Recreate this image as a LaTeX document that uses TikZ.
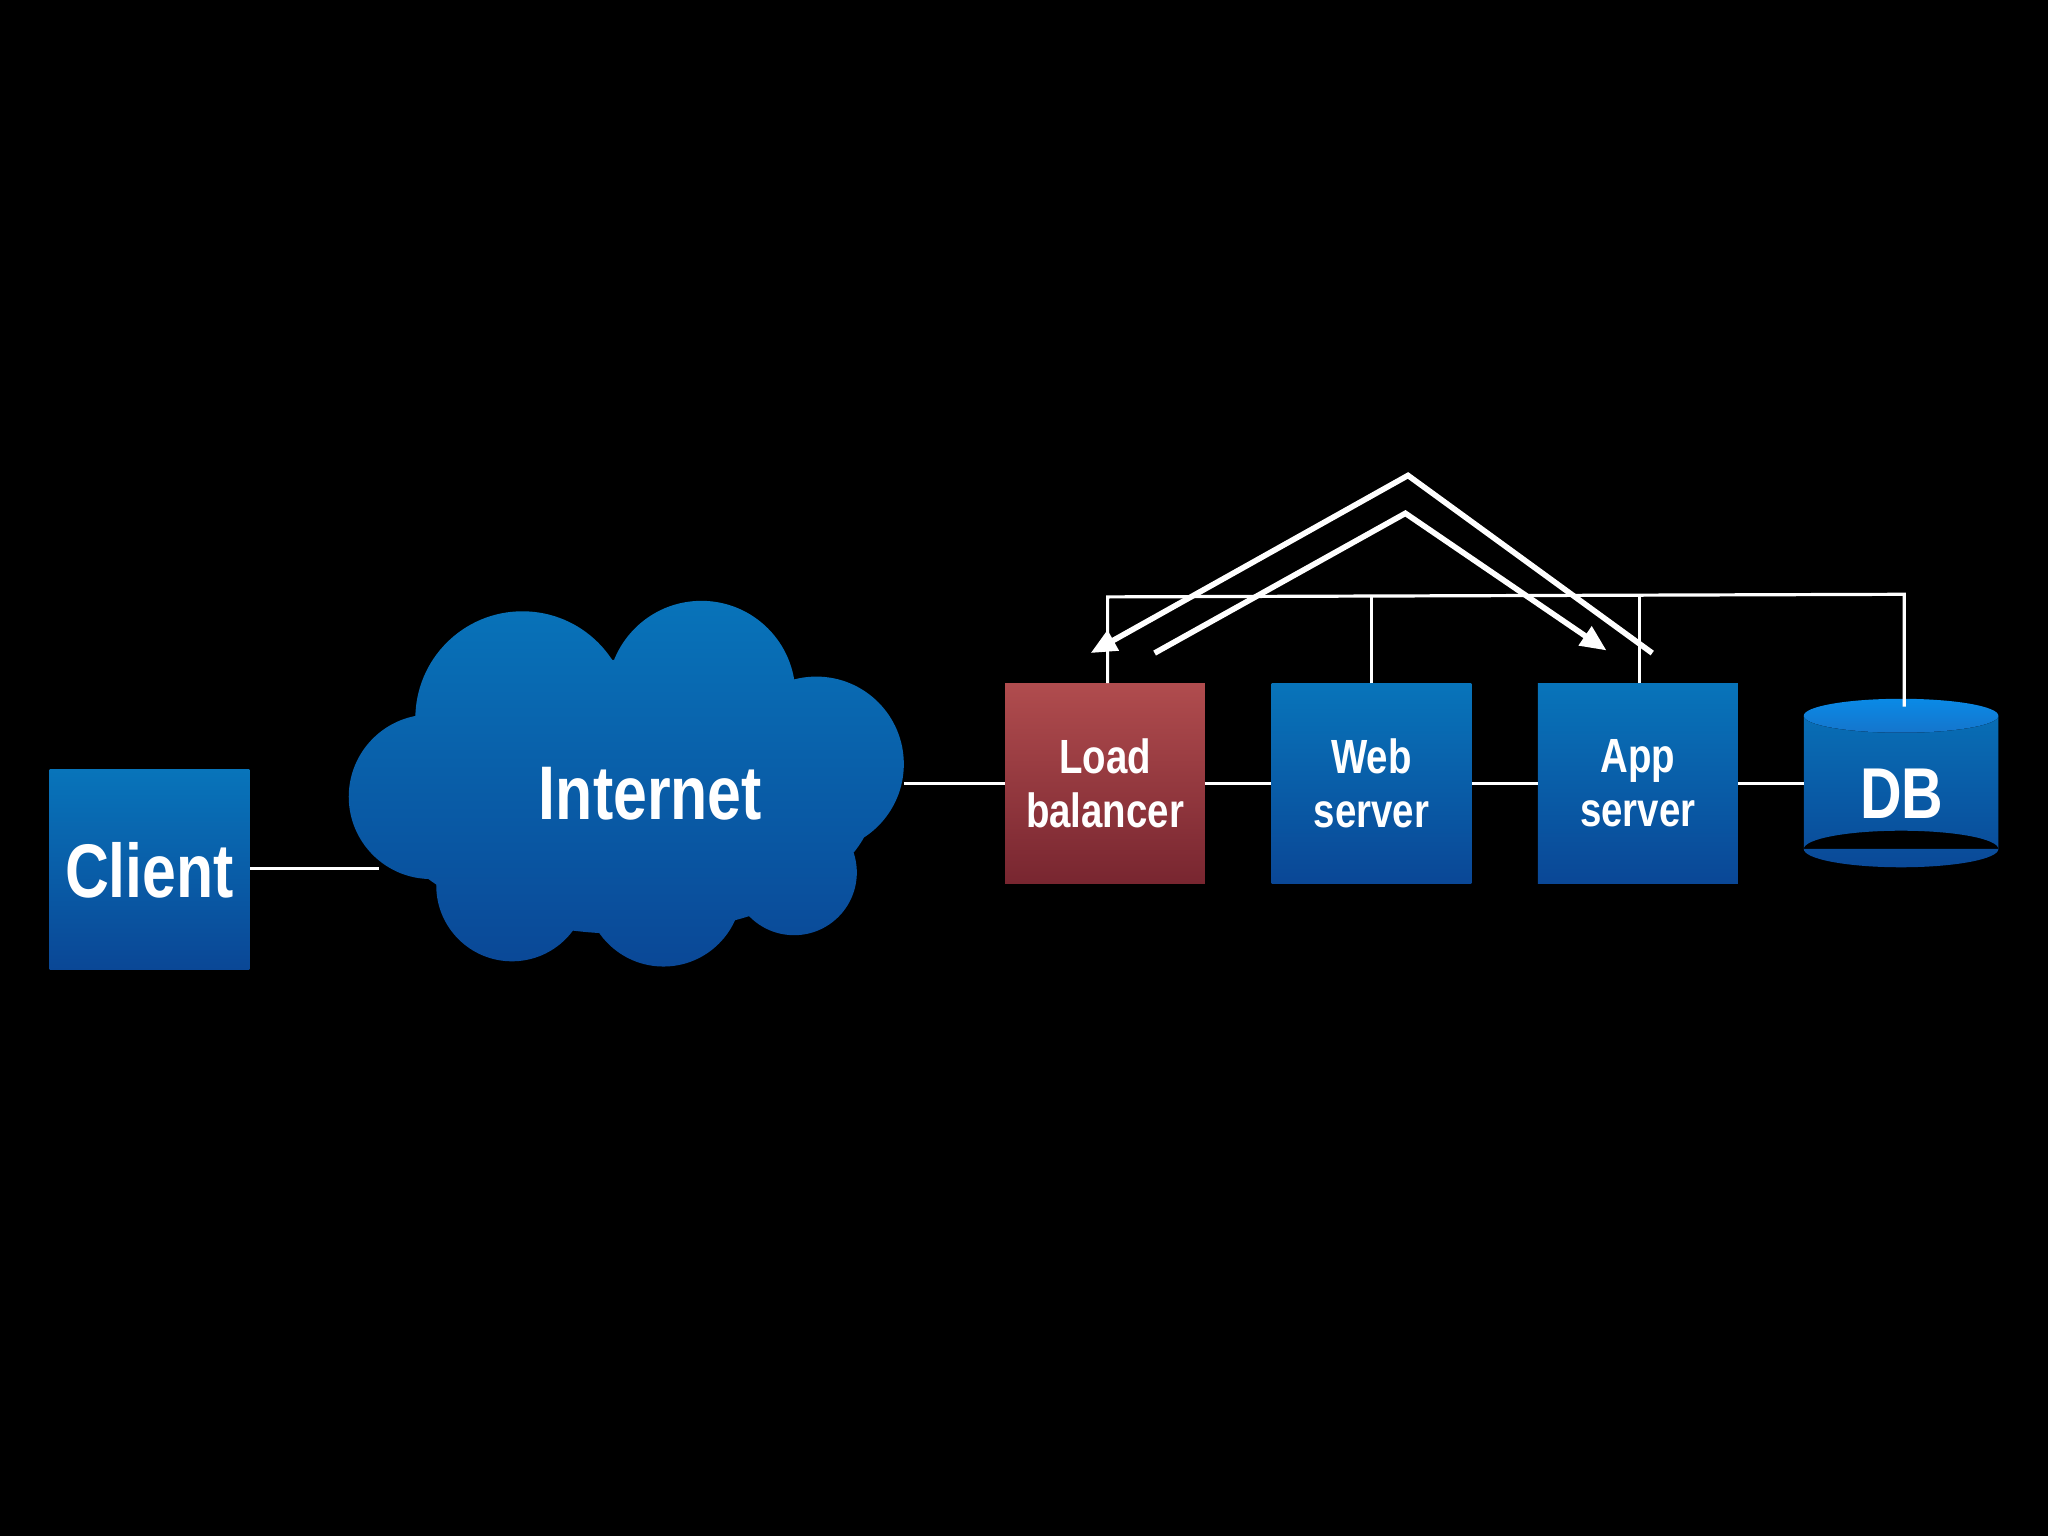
\documentclass[tikz,border=0pt]{standalone}
\usepackage{fontspec}
\setmainfont{Liberation Sans}[FakeStretch=0.8]
\usetikzlibrary{arrows.meta,shadows}
\definecolor{btop}{HTML}{0874BA}
\definecolor{bbot}{HTML}{0A4796}
\definecolor{rtop}{HTML}{B04C4E}
\definecolor{rbot}{HTML}{782630}
\definecolor{dtop}{HTML}{0A8AE6}
\definecolor{dbot}{HTML}{1575CC}
\tikzset{
  box/.style={minimum width=99.9pt,minimum height=99.9pt,inner sep=0pt,top color=btop,bottom color=bbot,draw=none,align=center,text=white,font=\bfseries\fontsize{24}{27}\selectfont},
  redbox/.style={box,top color=rtop,bottom color=rbot},
  wire/.style={white,line width=1.6pt},
  flow/.style={white,line width=2.8pt,-{Triangle[width=11pt,length=13pt]}},
  lbl/.style={text=white,font=\bfseries\fontsize{38}{40}\selectfont}
}
\begin{document}
\begin{tikzpicture}[x=0.653pt,y=-0.653pt]
\fill[black] (0,0) rectangle (1568,1176);
\useasboundingbox (0,0) rectangle (1568,1176);
% cloud
\begin{scope}
\clip (330,610) circle[radius=63] (400,550) circle[radius=82] (537,532) circle[radius=72]
 (625,585) circle[radius=67] (392,678) circle[radius=58] (508,680) circle[radius=60]
 (608,668) circle[radius=48] (480,610) ellipse[x radius=190,y radius=105];
\shade[top color=btop,bottom color=bbot] (260,455) rectangle (700,745);
\end{scope}
\node[lbl] (net) at (498,608) {Internet};
\coordinate (netL) at (290,665);
\coordinate (netR) at (692,600);
% boxes
\node[box,font=\bfseries\fontsize{38}{40}\selectfont] (client) at (114.5,666) {Client};
\node[redbox] (lb) at (846,600) {Load\\balancer};
\node[box] (web) at (1050,600) {Web\\server};
\node[box] (app) at (1254,600) {App\\server};
% DB cylinder
\begin{scope}
\clip (1381,548) rectangle (1530,650) (1455.5,650) ellipse[x radius=74.5,y radius=14];
\shade[top color=btop,bottom color=bbot] (1375,530) rectangle (1535,670);
\end{scope}
\fill[top color=dtop,bottom color=dbot] (1455.5,548) ellipse[x radius=74.5,y radius=13];
\node[lbl,font=\bfseries\fontsize{36}{38}\selectfont] (db) at (1456,608) {DB};
\coordinate (dbT) at (1458,541);
% wires
\draw[wire] (client.east |- netL) -- (netL);
\draw[wire] (netR) -- (lb.west |- netR);
\draw[wire] (lb.east) -- (web.west);
\draw[wire] (web.east) -- (app.west);
\draw[wire] (app.east) -- (1381,600);
\coordinate (busL) at (848,457);
\coordinate (busR) at (1458,455);
\draw[wire] (848,523) -- (busL) -- (busR) -- (dbT);
\draw[wire] (web.north) -- (web.north |- 0,456);
\draw[wire] (1255,523) -- (1255,456);
% flows
\coordinate (o1) at (1265,500); \coordinate (op) at (1078,364); \coordinate (o2) at (835,500);
\coordinate (i1) at (884,500); \coordinate (ip) at (1076,393); \coordinate (i2) at (1230,498);
\draw[flow] (o1) -- (op) -- (o2);
\draw[flow] (i1) -- (ip) -- (i2);
\end{tikzpicture}
\end{document}
